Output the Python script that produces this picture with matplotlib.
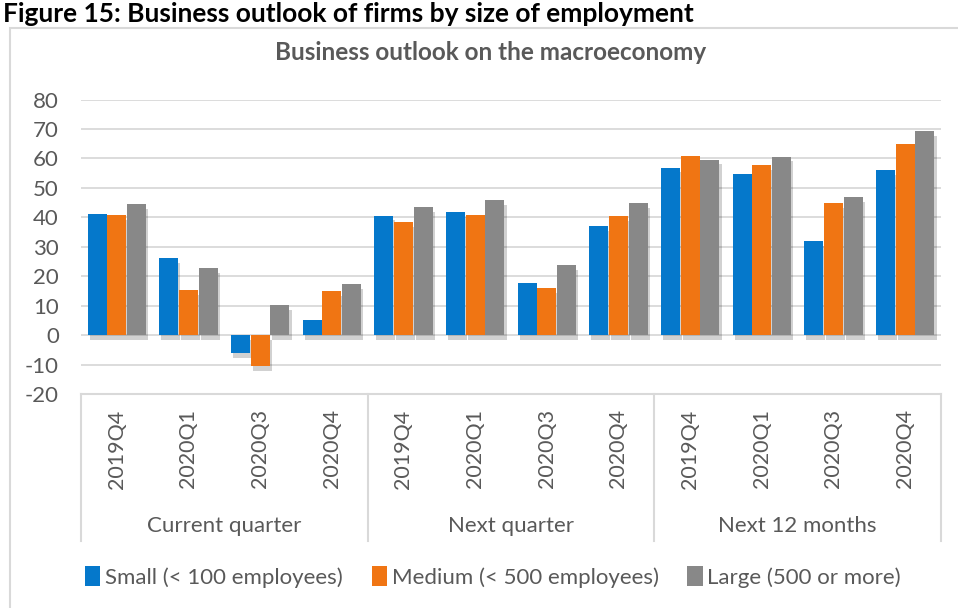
import matplotlib
matplotlib.use('Agg')
import matplotlib.pyplot as plt
import matplotlib.patheffects as pe
from matplotlib.patches import Rectangle, Patch
from matplotlib.lines import Line2D
import numpy as np

plt.rcParams['font.family'] = ['Lato', 'DejaVu Sans']
plt.rcParams['axes.unicode_minus'] = False

# data
groups = ['Current quarter', 'Next quarter', 'Next 12 months']
quarters = ['2019Q4', '2020Q1', '2020Q3', '2020Q4']
series = ['Small (< 100 employees)', 'Medium (< 500 employees)', 'Large (500 or more)']
small = [41.0, 26.1, -6.0, 5.1, 40.6, 41.9, 17.7, 37.0, 56.9, 54.7, 31.9, 55.9]
medium = [40.7, 15.2, -10.4, 14.9, 38.3, 40.9, 16.1, 40.5, 60.8, 57.6, 44.8, 64.8]
large = [44.6, 22.7, 10.1, 17.4, 43.4, 45.8, 23.8, 44.8, 59.6, 60.6, 46.9, 69.2]
colors = ['#0578CB', '#F07513', '#888888']
yticks = list(range(-20, 81, 10))

W, H = 958, 608
fig = plt.figure(figsize=(W / 100, H / 100), dpi=100)
txt = '#595959'
grid_c = '#D9D9D9'

# outer chart border (right and bottom fall outside the picture)
fig.patches.append(Rectangle((10 / W, -0.05), 1.2, (H - 28) / H + 0.05, transform=fig.transFigure,
                             fill=False, edgecolor=grid_c, lw=1.5))

fig.text(3 / W, 1 - 22 / H, 'Figure 15: Business outlook of firms by size of employment',
         fontsize=19, fontweight='bold', color='black', va='baseline', ha='left')
fig.text(491 / W, 1 - 52 / H, 'Business outlook on the macroeconomy',
         fontsize=17.5, fontweight='bold', color=txt, ha='center', va='center')

ax = fig.add_axes([81 / W, (H - 394) / H, 860 / W, 294.5 / H])
ax.set_ylim(-20, 80)
ax.set_xlim(-0.5, 11.5)
ax.set_yticks(yticks)
ax.tick_params(axis='y', length=0, labelsize=16, labelcolor=txt, pad=16)
for s in ax.spines.values():
    s.set_visible(False)
ax.yaxis.grid(True, color=grid_c, lw=1.3)
ax.set_axisbelow(True)

x = np.arange(len(small))
bw = 0.268
shadow = [pe.SimplePatchShadow(offset=(1.5, -3.5), shadow_rgbFace='black', alpha=0.18), pe.Normal()]
for i, vals in enumerate([small, medium, large]):
    bars = ax.bar(x + (i - 1) * 0.275, vals, bw, color=colors[i], zorder=3)
    for b in bars:
        b.set_path_effects(shadow)

# category axis: quarters and group labels
ax.set_xticks(x)
ax.set_xticklabels(quarters * len(groups), rotation=90, fontsize=15.5, color=txt)
ax.tick_params(axis='x', length=0, pad=11)
for lbl in ax.get_xticklabels():
    lbl.set_va('top')

ax_h = 294.5
ax.add_line(Line2D([0, 1], [0, 0], transform=ax.transAxes, color=grid_c, lw=1.5, clip_on=False))
for k in range(len(groups) + 1):
    xx = -0.5 + 4 * k
    ax.add_line(Line2D([xx, xx], [0, -(541 - 394) / ax_h], transform=ax.get_xaxis_transform(),
                       color=grid_c, lw=1.5, clip_on=False))
for k, g in enumerate(groups):
    ax.text(1.5 + 4 * k, -(526 - 394) / ax_h, g, transform=ax.get_xaxis_transform(),
            ha='center', va='center', fontsize=16, color=txt)

handles = [Patch(facecolor=c, edgecolor='none') for c in colors]
fig.legend(handles, series, loc='center', bbox_to_anchor=(493 / W, 1 - 577 / H), ncol=3,
           frameon=False, fontsize=16, labelcolor=txt, handlelength=0.7, handleheight=1.0,
           handletextpad=0.2, columnspacing=1.3)

fig.savefig('out.png', dpi=100, facecolor='white')
